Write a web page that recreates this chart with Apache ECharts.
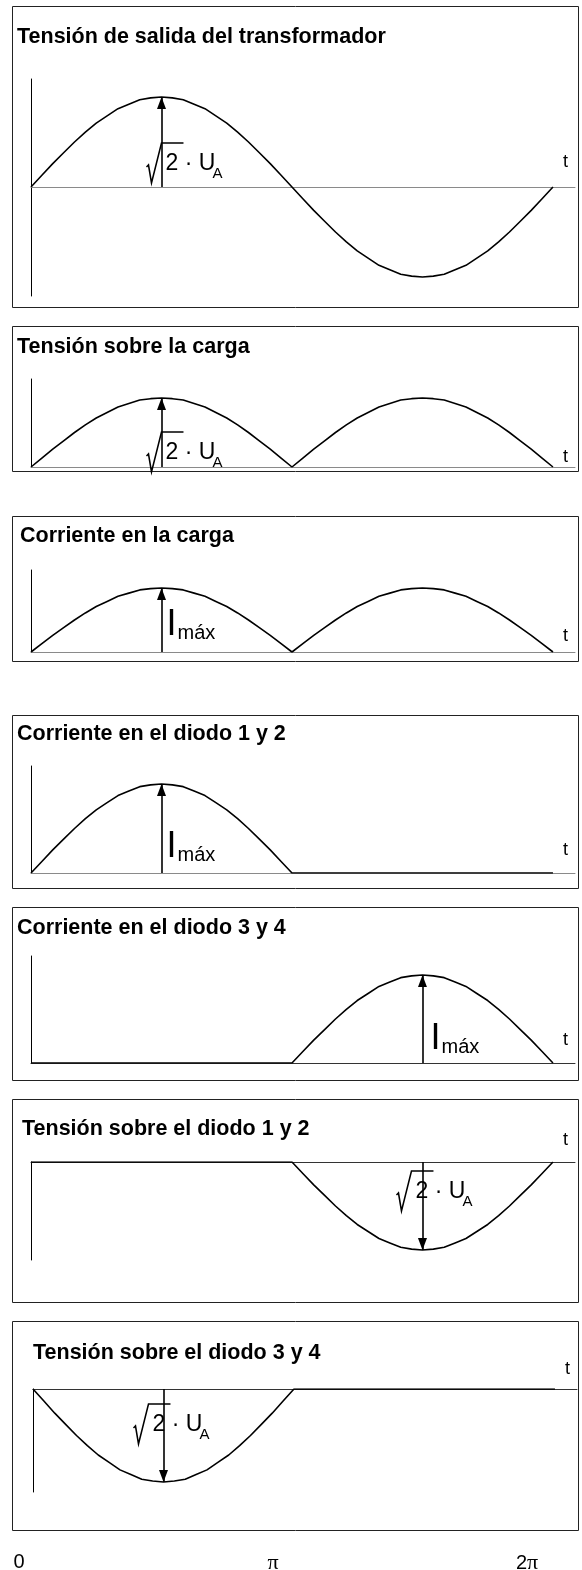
<!DOCTYPE html>
<html>
<head>
<meta charset="utf-8">
<script src="https://cdn.jsdelivr.net/npm/echarts@6/dist/echarts.min.js"></script>
<style>
  html, body { margin: 0; padding: 0; background: #fff; }
  #chart { width: 582px; height: 1570px; }
</style>
</head>
<body>
<div id="chart"></div>
<script>
// fase en grados (0 .. 2π), una muestra cada 7.5°
const fase = [0, 7.5, 15, 22.5, 30, 37.5, 45, 52.5, 60, 67.5, 75, 82.5, 90, 97.5, 105, 112.5, 120, 127.5, 135, 142.5, 150, 157.5, 165, 172.5,
  180, 187.5, 195, 202.5, 210, 217.5, 225, 232.5, 240, 247.5, 255, 262.5, 270, 277.5, 285, 292.5, 300, 307.5, 315, 322.5, 330, 337.5, 345, 352.5, 360]

// valores normalizados (1 = valor de pico)
const uTrafo = [0, 0.13, 0.26, 0.38, 0.5, 0.61, 0.71, 0.79, 0.87, 0.92, 0.97, 0.99, 1, 0.99, 0.97, 0.92, 0.87, 0.79, 0.71, 0.61, 0.5, 0.38, 0.26, 0.13,
  0, -0.13, -0.26, -0.38, -0.5, -0.61, -0.71, -0.79, -0.87, -0.92, -0.97, -0.99, -1, -0.99, -0.97, -0.92, -0.87, -0.79, -0.71, -0.61, -0.5, -0.38, -0.26, -0.13, 0]
const uCarga = [0, 0.13, 0.26, 0.38, 0.5, 0.61, 0.71, 0.79, 0.87, 0.92, 0.97, 0.99, 1, 0.99, 0.97, 0.92, 0.87, 0.79, 0.71, 0.61, 0.5, 0.38, 0.26, 0.13,
  0, 0.13, 0.26, 0.38, 0.5, 0.61, 0.71, 0.79, 0.87, 0.92, 0.97, 0.99, 1, 0.99, 0.97, 0.92, 0.87, 0.79, 0.71, 0.61, 0.5, 0.38, 0.26, 0.13, 0]
const iCarga = [0, 0.13, 0.26, 0.38, 0.5, 0.61, 0.71, 0.79, 0.87, 0.92, 0.97, 0.99, 1, 0.99, 0.97, 0.92, 0.87, 0.79, 0.71, 0.61, 0.5, 0.38, 0.26, 0.13,
  0, 0.13, 0.26, 0.38, 0.5, 0.61, 0.71, 0.79, 0.87, 0.92, 0.97, 0.99, 1, 0.99, 0.97, 0.92, 0.87, 0.79, 0.71, 0.61, 0.5, 0.38, 0.26, 0.13, 0]
const iDiodo12 = [0, 0.13, 0.26, 0.38, 0.5, 0.61, 0.71, 0.79, 0.87, 0.92, 0.97, 0.99, 1, 0.99, 0.97, 0.92, 0.87, 0.79, 0.71, 0.61, 0.5, 0.38, 0.26, 0.13,
  0, 0, 0, 0, 0, 0, 0, 0, 0, 0, 0, 0, 0, 0, 0, 0, 0, 0, 0, 0, 0, 0, 0, 0, 0]
const iDiodo34 = [0, 0, 0, 0, 0, 0, 0, 0, 0, 0, 0, 0, 0, 0, 0, 0, 0, 0, 0, 0, 0, 0, 0, 0,
  0, 0.13, 0.26, 0.38, 0.5, 0.61, 0.71, 0.79, 0.87, 0.92, 0.97, 0.99, 1, 0.99, 0.97, 0.92, 0.87, 0.79, 0.71, 0.61, 0.5, 0.38, 0.26, 0.13, 0]
const uDiodo12 = [0, 0, 0, 0, 0, 0, 0, 0, 0, 0, 0, 0, 0, 0, 0, 0, 0, 0, 0, 0, 0, 0, 0, 0,
  0, -0.13, -0.26, -0.38, -0.5, -0.61, -0.71, -0.79, -0.87, -0.92, -0.97, -0.99, -1, -0.99, -0.97, -0.92, -0.87, -0.79, -0.71, -0.61, -0.5, -0.38, -0.26, -0.13, 0]
const uDiodo34 = [0, -0.13, -0.26, -0.38, -0.5, -0.61, -0.71, -0.79, -0.87, -0.92, -0.97, -0.99, -1, -0.99, -0.97, -0.92, -0.87, -0.79, -0.71, -0.61, -0.5, -0.38, -0.26, -0.13,
  0, 0, 0, 0, 0, 0, 0, 0, 0, 0, 0, 0, 0, 0, 0, 0, 0, 0, 0, 0, 0, 0, 0, 0, 0]

const titulos = [
  'Tensión de salida del transformador',
  'Tensión sobre la carga',
  'Corriente en la carga',
  'Corriente en el diodo 1 y 2',
  'Corriente en el diodo 3 y 4',
  'Tensión sobre el diodo 1 y 2',
  'Tensión sobre el diodo 3 y 4'
]
const ticks = ['0', 'π', '2π']

const FONT = '"Liberation Sans", Arial, sans-serif'
const XMAX = 375.2

// layout de cada panel
const panels = [
  { data: uTrafo, frame: [6.5, 301], tx: 17, ty: 26, left: 31, top: 79, height: 217, min: -1.211, max: 1.2, axis: '#8a8a8a', tDy: -25, arrow: [90, 1], ann: 'u', off: [4, -23] },
  { data: uCarga, frame: [326.5, 145], tx: 17, ty: 336, left: 31, top: 379, height: 88, min: 0, max: 1.275, axis: '#8a8a8a', tDy: -10, arrow: [90, 1], ann: 'u', off: [4, -14] },
  { data: iCarga, frame: [516.5, 145], tx: 20, ty: 525, left: 31, top: 570, height: 82, min: 0, max: 1.281, axis: '#8a8a8a', tDy: -16, arrow: [90, 1], ann: 'i', off: [5, -27] },
  { data: iDiodo12, frame: [715.5, 173], tx: 17, ty: 723, left: 31, top: 766, height: 107, min: 0, max: 1.202, axis: '#8a8a8a', tDy: -23, arrow: [90, 1], ann: 'i', off: [5, -26] },
  { data: iDiodo34, frame: [907.5, 173], tx: 17, ty: 917, left: 31, top: 956, height: 107, min: 0, max: 1.216, axis: '#333', tDy: -23, arrow: [270, 1], ann: 'i', off: [8, -24] },
  { data: uDiodo12, frame: [1099.5, 203], tx: 22, ty: 1118, left: 31, top: 1162, height: 98, min: -1.114, max: 0, axis: '#333', tDy: -22, arrow: [270, -1], ann: 'u', off: [-7, 30] },
  { data: uDiodo34, frame: [1321.5, 209], tx: 33, ty: 1342, left: 33, top: 1389, height: 103, min: -1.108, max: 0, axis: '#333', tDy: -20, arrow: [90, -1], ann: 'u', off: [-11, 36] }
]

const hidden = { symbol: 'rect', symbolSize: 1, itemStyle: { color: 'rgba(0,0,0,0)' } }

function texto(coord, txt, size, offset) {
  return Object.assign({ coord }, hidden, {
    label: { show: true, position: 'inside', align: 'left', verticalAlign: 'middle', offset,
      formatter: txt, fontSize: size, fontFamily: FONT, color: '#000' }
  })
}

// √2 · U_A anclado al pie de la flecha
function raiz(x, off) {
  const [dx, dy] = off
  return [
    {
      coord: [x, 0], symbol: 'path://M0,24 L2,22 L5,40 L15,0 L37,0', symbolKeepAspect: false,
      symbolSize: [37, 40], symbolOffset: [dx - 0.5, dy - 1],
      itemStyle: { color: 'none', borderColor: '#000', borderWidth: 1.6 }, label: { show: false }
    },
    texto([x, 0], '2 · U', 23, [dx, dy]),
    texto([x, 0], 'A', 15, [dx + 47, dy + 9.5])
  ]
}

// I_máx anclado al pie de la flecha
function imax(x, off) {
  const [dx, dy] = off
  return [
    texto([x, 0], 'I', 36, [dx, dy]),
    texto([x, 0], 'máx', 20, [dx + 11, dy + 8])
  ]
}

const grid = []
const xAxis = []
const yAxis = []
const series = []
const title = []
const graphic = []

panels.forEach((p, k) => {
  grid.push({ left: p.left, top: p.top, width: 544, height: p.height })
  xAxis.push({
    gridIndex: k, type: 'value', min: 0, max: XMAX,
    axisLine: { onZero: true, lineStyle: { color: p.axis, width: 1 } },
    axisTick: { show: false }, axisLabel: { show: false }, splitLine: { show: false }
  })
  yAxis.push({
    gridIndex: k, type: 'value', min: p.min, max: p.max,
    axisLine: { show: true, onZero: false, lineStyle: { color: '#000', width: 1 } },
    axisTick: { show: false }, axisLabel: { show: false }, splitLine: { show: false }
  })
  const marks = p.ann === 'u' ? raiz(p.arrow[0], p.off) : imax(p.arrow[0], p.off)
  marks.push(texto([XMAX, 0], 't', 18, [-12, p.tDy]))
  series.push({
    type: 'line', xAxisIndex: k, yAxisIndex: k,
    data: fase.map((f, i) => [f, p.data[i]]),
    showSymbol: false, silent: true,
    lineStyle: { color: '#000', width: 1.6 },
    markLine: {
      silent: true,
      // punta del triángulo en el centro del símbolo, para que toque la curva
      symbol: ['none', 'path://M0,-12 L0,-12 M0,0 L4.5,12 L-4.5,12 Z'],
      symbolSize: [9, 24],
      lineStyle: { color: '#000', width: 1.6, type: 'solid' },
      label: { show: false },
      data: [[{ coord: [p.arrow[0], 0] }, { coord: [p.arrow[0], p.arrow[1]] }]]
    },
    markPoint: { silent: true, data: marks }
  })
  title.push({
    text: titulos[k], left: p.tx, top: p.ty, padding: 0,
    textStyle: { fontSize: 21.5, fontWeight: 'bold', fontFamily: FONT, color: '#000' }
  })
  graphic.push({
    type: 'rect', shape: { x: 12.5, y: p.frame[0], width: 566, height: p.frame[1] },
    style: { fill: 'none', stroke: '#222', lineWidth: 1 }, silent: true
  })
})

// eje inferior con 0, π, 2π
grid.push({ left: 19, top: 1540, width: 508, height: 1 })
xAxis.push({
  gridIndex: 7, type: 'category', data: ticks, boundaryGap: false,
  axisLine: { show: false }, axisTick: { show: false }, splitLine: { show: false },
  axisLabel: {
    show: true, interval: 0, margin: 12, fontSize: 20, fontFamily: FONT, color: '#000',
    formatter: v => v.replace('π', '{p|π}'),
    rich: { p: { fontSize: 22, fontFamily: '"Liberation Serif", serif', color: '#000' } }
  }
})
yAxis.push({ gridIndex: 7, type: 'value', show: false })

const chart = echarts.init(document.getElementById('chart'), null, { renderer: 'canvas' })
chart.setOption({
  animation: false,
  backgroundColor: '#fff',
  title, grid, xAxis, yAxis, series, graphic
})
</script>
</body>
</html>
